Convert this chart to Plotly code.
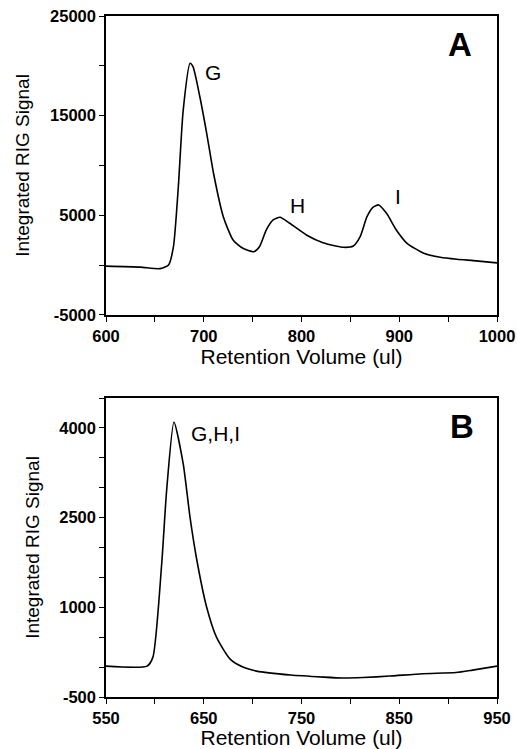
import plotly.graph_objects as go

# Panel A data
xa = [600, 635, 655, 664, 669, 674, 679, 686, 689, 696, 703, 710, 720, 730, 740, 751, 757, 764, 771, 778,
      788, 805, 822, 843, 853, 860, 867, 873, 879, 887, 897, 908, 925, 942, 959, 976, 1000]
ya = [-100, -200, -350, 20, 1850, 7870, 15570, 20250, 19910, 16900, 13230, 9220, 4860, 2525, 1690, 1350, 1850,
      3530, 4530, 4800, 4200, 3030, 2250, 1790, 1920, 2860, 4860, 5800, 6040, 5200, 3530, 2190, 1190, 790, 590, 450, 230]

# Panel B data
xb = [550, 592, 598, 607, 612, 619.5, 629, 636, 643, 653, 663, 677, 690, 704, 739, 772, 792, 813, 840, 874, 908, 925, 950]
yb = [17, 17, 167, 1733, 2950, 4100, 3400, 2500, 1783, 1000, 500, 133, 0, -67, -133, -167, -183, -175, -150, -110, -90, -50, 17]

xa_ticks = [600, 650, 700, 750, 800, 850, 900, 950, 1000]
xa_text = ["600", "", "700", "", "800", "", "900", "", "1000"]
ya_ticks = [-5000, 0, 5000, 10000, 15000, 20000, 25000]
ya_text = ["-5000", "", "5000", "", "15000", "", "25000"]
xb_ticks = [550, 600, 650, 700, 750, 800, 850, 900, 950]
xb_text = ["550", "", "650", "", "750", "", "850", "", "950"]
yb_ticks = [-500, 0, 500, 1000, 1500, 2000, 2500, 3000, 3500, 4000, 4500]
yb_text = ["-500", "", "", "1000", "", "", "2500", "", "", "4000", ""]

FONT = "Liberation Sans, Arial, sans-serif"

fig = go.Figure()
fig.add_trace(go.Scatter(x=xa, y=ya, mode="lines", line=dict(color="black", width=1.6, shape="spline", smoothing=0.6),
                         xaxis="x", yaxis="y", showlegend=False))
fig.add_trace(go.Scatter(x=xb, y=yb, mode="lines", line=dict(color="black", width=1.6, shape="spline", smoothing=0.6),
                         xaxis="x2", yaxis="y2", showlegend=False))

ax_common = dict(showline=True, linecolor="black", linewidth=1.5, mirror=True, ticks="outside",
                 ticklen=5, tickwidth=1.2, tickcolor="black", showgrid=False, zeroline=False,
                 automargin=False, ticklabeloverflow="allow",
                 tickfont=dict(family=FONT, size=16.5, color="black", weight="bold"))
xtitle_font = dict(family=FONT, size=21, color="black")
ytitle_font = dict(family=FONT, size=19, color="black")

fig.update_layout(
    width=517, height=749, paper_bgcolor="white", plot_bgcolor="white",
    margin=dict(l=106, r=20, t=16, b=52),
    xaxis=dict(domain=[0, 1], range=[600, 1000], anchor="y", tickvals=xa_ticks, ticktext=xa_text,
               title=dict(text="Retention Volume (ul)", font=xtitle_font, standoff=4), **ax_common),
    yaxis=dict(domain=[0.561, 1], range=[-5000, 25000], anchor="x", tickvals=ya_ticks, ticktext=ya_text,
               title=dict(text="Integrated RIG Signal", font=ytitle_font, standoff=15), **ax_common),
    xaxis2=dict(domain=[0, 1], range=[550, 950], anchor="y2", tickvals=xb_ticks, ticktext=xb_text,
                title=dict(text="Retention Volume (ul)", font=xtitle_font, standoff=4), **ax_common),
    yaxis2=dict(domain=[0, 0.439], range=[-500, 4500], anchor="x2", tickvals=yb_ticks, ticktext=yb_text,
                title=dict(text="Integrated RIG Signal", font=ytitle_font, standoff=15), **ax_common),
)

ann_font = dict(family=FONT, size=21, color="black")
big_font = dict(family=FONT, size=33, color="black", weight="bold")
fig.add_annotation(x=709, y=19300, xref="x", yref="y", text="G", showarrow=False, font=ann_font)
fig.add_annotation(x=796, y=6000, xref="x", yref="y", text="H", showarrow=False, font=ann_font)
fig.add_annotation(x=899, y=6900, xref="x", yref="y", text="I", showarrow=False, font=ann_font)
fig.add_annotation(x=962, y=22100, xref="x", yref="y", text="A", showarrow=False, font=big_font)
fig.add_annotation(x=662, y=3900, xref="x2", yref="y2", text="G,H,I", showarrow=False, font=ann_font)
fig.add_annotation(x=914, y=4020, xref="x2", yref="y2", text="B", showarrow=False, font=big_font)

fig.write_html("out.html", config={"displayModeBar": False},
               post_script="document.body.style.margin='0';")
